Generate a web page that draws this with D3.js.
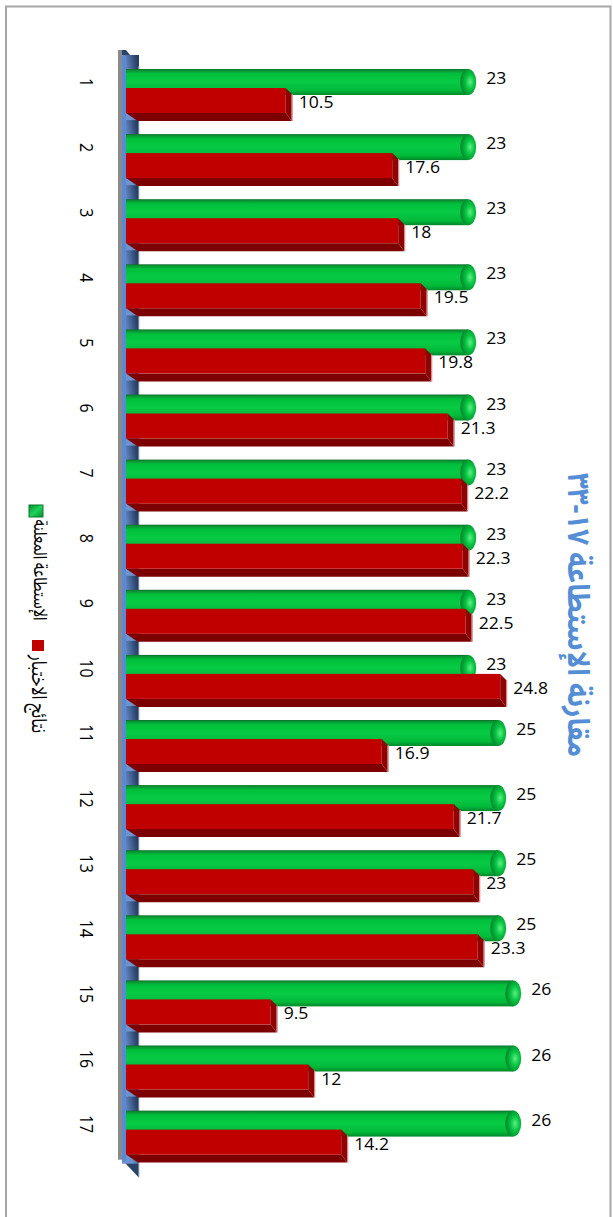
<!DOCTYPE html>
<html><head><meta charset="utf-8">
<script src="https://cdn.jsdelivr.net/npm/d3@7"></script>
<style>html,body{margin:0;padding:0;background:#fff;overflow:hidden}</style>
</head><body>
<script>
const categories = ['1','2','3','4','5','6','7','8','9','10','11','12','13','14','15','16','17'];
const declaredValues = [23,23,23,23,23,23,23,23,23,23,25,25,25,25,26,26,26];
const resultValues = [10.5,17.6,18,19.5,19.8,21.3,22.2,22.3,22.5,24.8,16.9,21.7,23,23.3,9.5,12,14.2];
const seriesNames = ['الإستطاعة المعلنة','نتائج الاختبار'];
const titleText = 'مقارنة الإستطاعة ١٧-٣٣';

const W = 613, H = 1217;
const svg = d3.select('body').append('svg').attr('width', W).attr('height', H);
const defs = svg.append('defs');

function lin(id, stops, x2, y2) {
  const g = defs.append('linearGradient').attr('id', id)
    .attr('x1', 0).attr('y1', 0).attr('x2', x2).attr('y2', y2);
  stops.forEach(s => g.append('stop').attr('offset', s[0]).attr('stop-color', s[1]));
}
lin('gBody', [[0,'#0b6e2a'],[0.06,'#0b9334'],[0.18,'#00c03b'],[0.5,'#08ca45'],[0.82,'#00ba3a'],[1,'#00882b']], 0, 1);
lin('wallG', [[0,'#6f93cf'],[0.55,'#2c4670'],[1,'#14233b']], 1, -0.6);
lin('legG', [[0,'#0a8a2e'],[0.5,'#1ed35a'],[1,'#0a8a2e']], 1, 1);
const rg = defs.append('radialGradient').attr('id', 'gCap').attr('cx', 0.62).attr('cy', 0.5).attr('r', 0.6);
rg.append('stop').attr('offset', 0).attr('stop-color', '#5cf084');
rg.append('stop').attr('offset', 0.45).attr('stop-color', '#08c542');
rg.append('stop').attr('offset', 1).attr('stop-color', '#00862b');

// frame
svg.append('rect').attr('x', 6).attr('y', 6.5).attr('width', 604.5).attr('height', 1230)
  .attr('fill', 'none').attr('stroke', '#a6a6a6').attr('stroke-width', 2);

const step = 65.1;
const y = d3.scaleBand().domain(categories).range([57, 57 + step * categories.length]);
const x = d3.scaleLinear().domain([0, 26]).range([128.2, 518.2]);
const x0 = 126;

// wall
const wallTop = y.range()[0] - 7, wallBot = y.range()[1] - 4;
svg.append('polygon')
  .attr('points', [[122, wallTop], [126, wallTop], [139, wallTop + 16], [139, wallBot + 18], [122, wallBot]].map(p => p.join(',')).join(' '))
  .attr('fill', '#2a4468');
svg.selectAll('rect.wallpiece').data(categories).enter().append('rect')
  .attr('class', 'wallpiece')
  .attr('x', 122).attr('width', 17)
  .attr('y', d => y(d) - 2).attr('height', y.bandwidth() + 2)
  .attr('fill', 'url(#wallG)');
svg.append('rect').attr('x', 138.5).attr('y', wallTop + 16).attr('width', 1).attr('height', wallBot - wallTop + 2)
  .attr('fill', '#b9c2cf');
svg.append('rect').attr('x', 118).attr('y', wallTop).attr('width', 4).attr('height', wallBot - wallTop)
  .attr('fill', '#8a8a8a');
svg.append('rect').attr('x', 122).attr('y', wallTop + 6).attr('width', 4).attr('height', wallBot - wallTop - 4)
  .attr('fill', '#5b8ad4');

// bars
const g = svg.append('g');
categories.forEach((c, i) => {
  const top = y(c) + 12;
  const gv = declaredValues[i], rv = resultValues[i];
  // green cylinder
  g.append('rect').attr('x', x0).attr('y', top).attr('width', x(gv) - 5 - x0).attr('height', 26)
    .attr('fill', 'url(#gBody)');
  g.append('ellipse').attr('cx', x(gv) - 5).attr('cy', top + 13).attr('rx', 8).attr('ry', 13)
    .attr('fill', 'url(#gCap)');
  // red box
  const rt = top + 19, rb = top + 44, xe = x(rv);
  g.append('polygon')
    .attr('points', [[x0, rb], [xe, rb], [xe + 6, rb + 8], [x0 + 12, rb + 8]].map(p => p.join(',')).join(' '))
    .attr('fill', '#7c0000');
  g.append('polygon')
    .attr('points', [[xe, rt], [xe + 6, rt + 6], [xe + 6, rb + 8], [xe, rb]].map(p => p.join(',')).join(' '))
    .attr('fill', '#8f0303');
  g.append('line').attr('x1', xe + 6.5).attr('x2', xe + 6.5).attr('y1', rt + 6).attr('y2', rb + 8)
    .attr('stroke', '#d38b8b').attr('stroke-width', 1.2);
  g.append('rect').attr('x', x0).attr('y', rt).attr('width', xe - x0).attr('height', 25)
    .attr('fill', '#c00000');
  // labels
  g.append('text').attr('transform', `translate(${x(gv) + 13},${top + 15}) scale(1.1,1)`)
    .attr('font-family', 'Open Sans, sans-serif').attr('font-size', 16).attr('fill', '#000')
    .text(gv);
  g.append('text').attr('transform', `translate(${xe + 13},${top + 39}) scale(1.1,1)`)
    .attr('font-family', 'Open Sans, sans-serif').attr('font-size', 16).attr('fill', '#000')
    .text(rv);
  // category label
  g.append('text').attr('transform', `translate(87,${top + 13.5}) scale(1.15,1) rotate(90)`)
    .attr('font-family', 'Open Sans, sans-serif').attr('font-size', 16).attr('fill', '#000')
    .attr('text-anchor', 'middle').attr('dominant-baseline', 'central')
    .text(c);
});

// fit rotated arabic text to a length
function fitText(sel, len, base) {
  const l = sel.node().getComputedTextLength();
  sel.attr('font-size', base * len / l);
}
const arabicFont = 'Noto Sans Arabic, DejaVu Sans, sans-serif';

// title
const title = svg.append('text').attr('transform', 'translate(578,615) scale(1.08,1) rotate(90)')
  .attr('font-family', arabicFont).attr('font-weight', 'bold').attr('font-size', 22)
  .attr('fill', '#558ed5').attr('text-anchor', 'middle').attr('dominant-baseline', 'central')
  .text(titleText);
fitText(title, 284, 22);

// legend
svg.append('rect').attr('x', 29).attr('y', 505).attr('width', 14).attr('height', 12)
  .attr('fill', 'url(#legG)').attr('stroke', '#0b7a2c').attr('stroke-width', 1);
svg.append('rect').attr('x', 32).attr('y', 640).attr('width', 12).attr('height', 11)
  .attr('fill', '#c00000');
const l1 = svg.append('text').attr('transform', 'translate(40,570) scale(1.3,1) rotate(90)')
  .attr('font-family', arabicFont).attr('font-size', 14).attr('fill', '#000')
  .attr('text-anchor', 'middle').attr('dominant-baseline', 'central').text(seriesNames[0]);
fitText(l1, 101, 14);
const l2 = svg.append('text').attr('transform', 'translate(38,694) scale(1.3,1) rotate(90)')
  .attr('font-family', arabicFont).attr('font-size', 14).attr('fill', '#000')
  .attr('text-anchor', 'middle').attr('dominant-baseline', 'central').text(seriesNames[1]);
fitText(l2, 78, 14);
</script>
</body></html>
